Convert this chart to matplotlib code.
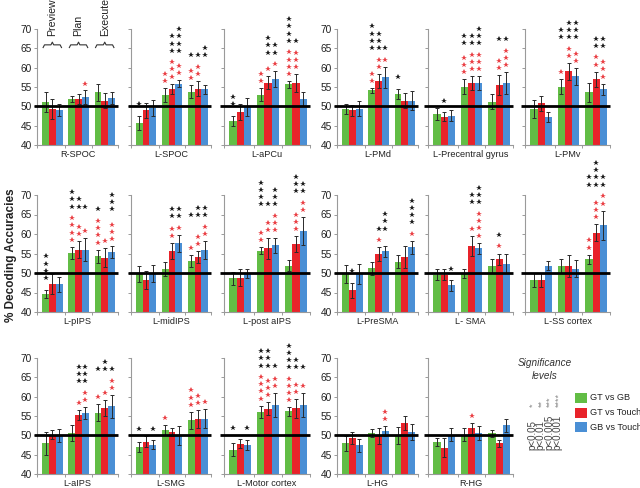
import numpy as np
import matplotlib.pyplot as plt
from matplotlib.patches import Rectangle

plt.rcParams['font.family'] = ['Liberation Sans', 'DejaVu Sans']

regions = ["R-SPOC", "L-SPOC", "L-aPCu", "L-PMd", "L-Precentral gyrus", "L-PMv",
           "L-pIPS", "L-midIPS", "L-post aIPS", "L-PreSMA", "L- SMA", "L-SS cortex",
           "L-aIPS", "L-SMG", "L-Motor cortex", "L-HG", "R-HG"]
phases = ["Preview", "Plan", "Execute"]
comparisons = ["GT vs GB", "GT vs Touch", "GB vs Touch"]
p_levels = ["p<0.05", "p<0.01", "p<0.005", "p<0.001"]
y_ticks = [40, 45, 50, 55, 60, 65, 70]
chance = 50

# mean accuracy per region: [phase][comparison]
means = [
    [[51.1, 49.3, 49.0], [51.8, 52.0, 52.3], [53.6, 51.5, 52.1]],
    [[45.7, 49.0, 49.6], [53.0, 54.6, 55.9], [53.8, 54.6, 54.4]],
    [[46.3, 48.5, 49.8], [53.0, 56.1, 57.1], [55.7, 56.0, 51.9]],
    [[49.3, 49.0, 49.4], [54.1, 56.5, 57.5], [53.2, 51.5, 51.5]],
    [[48.0, 47.3, 47.6], [55.1, 56.0, 56.0], [51.2, 55.5, 56.0]],
    [[49.3, 50.8, 47.3], [55.1, 59.1, 57.8], [53.6, 57.0, 54.4]],
    [[44.7, 47.1, 47.1], [55.2, 56.0, 56.0], [54.3, 53.9, 55.4]],
    [[49.8, 48.1, 49.9], [51.0, 55.7, 57.6], [53.1, 54.1, 55.8]],
    [[48.6, 48.8, 49.9], [55.7, 56.4, 57.1], [51.9, 57.4, 60.8]],
    [[49.7, 45.6, 49.7], [51.2, 54.8, 55.6], [52.9, 54.1, 56.6]],
    [[49.6, 49.6, 46.8], [49.9, 56.9, 56.3], [51.9, 53.5, 52.4]],
    [[48.3, 48.2, 51.9], [51.8, 51.8, 51.1], [53.5, 60.3, 62.2]],
    [[47.9, 50.2, 49.9], [50.7, 55.3, 55.8], [55.9, 57.1, 57.5]],
    [[47.0, 48.3, 47.6], [51.4, 50.8, 49.9], [53.9, 54.3, 54.3]],
    [[46.3, 47.8, 47.5], [56.1, 56.9, 57.8], [56.2, 57.0, 57.8]],
    [[47.9, 49.3, 47.4], [50.6, 49.8, 51.1], [50.0, 53.2, 50.8]],
    [[48.3, 46.8, 50.2], [50.2, 51.8, 50.5], [50.5, 47.9, 52.6]],
]

errs = [
    [[2.6, 2.7, 1.5], [0.8, 1.3, 1.8], [2.2, 2.0, 1.6]],
    [[1.9, 1.9, 2.0], [1.8, 1.3, 0.8], [1.7, 1.9, 1.1]],
    [[1.3, 2.0, 2.3], [1.7, 1.7, 2.0], [0.9, 2.4, 1.7]],
    [[1.4, 1.4, 1.9], [0.7, 1.8, 2.8], [1.4, 2.0, 2.4]],
    [[1.5, 1.2, 1.4], [1.9, 1.8, 1.8], [1.9, 2.6, 2.8]],
    [[2.3, 2.0, 1.3], [2.0, 2.2, 2.2], [2.4, 2.0, 1.5]],
    [[1.0, 2.6, 1.9], [1.5, 2.2, 2.9], [1.7, 2.4, 1.5]],
    [[2.1, 2.3, 2.1], [1.7, 2.0, 2.1], [1.6, 1.5, 2.3]],
    [[1.7, 2.1, 1.2], [0.9, 2.7, 2.0], [1.5, 2.0, 3.5]],
    [[2.3, 1.9, 2.5], [1.6, 1.8, 1.4], [1.6, 2.9, 1.6]],
    [[1.5, 1.5, 1.3], [1.1, 2.6, 1.5], [1.8, 1.5, 2.5]],
    [[1.8, 1.9, 1.1], [1.7, 2.7, 2.2], [1.2, 2.2, 3.8]],
    [[3.0, 1.2, 1.7], [2.1, 1.3, 1.5], [2.3, 2.1, 3.0]],
    [[1.2, 1.4, 1.1], [1.2, 1.1, 2.4], [2.2, 2.3, 2.5]],
    [[1.7, 1.2, 1.3], [1.6, 1.7, 3.1], [1.1, 2.4, 3.1]],
    [[1.9, 1.5, 1.6], [1.1, 2.1, 1.4], [2.2, 1.8, 2.1]],
    [[1.0, 2.4, 1.7], [1.7, 1.5, 1.8], [0.9, 0.8, 1.7]],
]

# number of red stars (above chance) per bar
red_stars = [
    [[0, 0, 0], [0, 0, 1], [0, 0, 0]],
    [[0, 0, 0], [2, 3, 2], [2, 2, 0]],
    [[0, 0, 0], [2, 1, 1], [4, 3, 0]],
    [[0, 0, 0], [2, 2, 1], [0, 0, 0]],
    [[0, 0, 0], [3, 3, 3], [0, 2, 3]],
    [[0, 0, 0], [1, 2, 2], [0, 2, 3]],
    [[0, 0, 0], [4, 2, 1], [4, 1, 3]],
    [[0, 0, 0], [0, 2, 1], [1, 2, 2]],
    [[0, 0, 0], [2, 2, 3], [0, 3, 2]],
    [[0, 0, 0], [0, 1, 0], [0, 0, 1]],
    [[0, 0, 0], [0, 1, 4], [0, 1, 0]],
    [[0, 0, 0], [0, 0, 0], [2, 3, 2]],
    [[0, 0, 0], [0, 1, 2], [1, 1, 2]],
    [[0, 0, 0], [1, 0, 0], [3, 2, 1]],
    [[0, 0, 0], [4, 3, 2], [4, 2, 1]],
    [[0, 0, 0], [0, 0, 2], [0, 0, 0]],
    [[0, 0, 0], [0, 1, 0], [0, 0, 0]],
]

# number of black stars per bar
black_stars = [
    [[0, 0, 0], [0, 0, 0], [0, 0, 0]],
    [[1, 0, 0], [0, 3, 4], [1, 1, 2]],
    [[2, 0, 0], [0, 3, 2], [4, 1, 0]],
    [[0, 0, 0], [4, 3, 1], [1, 0, 0]],
    [[0, 1, 0], [2, 2, 3], [0, 1, 1]],
    [[0, 0, 0], [2, 3, 3], [0, 2, 2]],
    [[4, 0, 0], [3, 2, 1], [1, 0, 3]],
    [[0, 0, 0], [0, 2, 2], [1, 2, 2]],
    [[0, 0, 0], [4, 1, 3], [0, 3, 2]],
    [[0, 1, 0], [0, 1, 3], [0, 0, 4]],
    [[0, 0, 1], [0, 2, 3], [0, 1, 0]],
    [[0, 0, 0], [0, 0, 0], [2, 4, 2]],
    [[0, 0, 0], [0, 3, 3], [1, 2, 1]],
    [[1, 0, 1], [0, 0, 0], [0, 0, 0]],
    [[1, 0, 1], [3, 3, 1], [4, 2, 1]],
    [[0, 0, 0], [0, 0, 0], [0, 0, 0]],
    [[0, 0, 0], [0, 0, 0], [0, 0, 0]],
]

bar_colors = ["#62bd45", "#e8232a", "#4a8fd5"]
red_star = "#ea4045"
black_star = "#1c1c1c"
spine_gray = "#9a9a9a"

W, H = 640, 488
col_left = [37, 131, 224, 337, 428, 525]
col_width = [81, 80, 86, 81, 85, 85]
row_top = [29, 195, 358]
row_bot = [145, 312, 474]

fig = plt.figure(figsize=(W / 100, H / 100), dpi=100)

bw = 1.0
centers = np.array([0.0, 3.85, 7.7])
xlim = (-2.25, 9.65)
step = 1.85


def star_column(ax, x, start, n, color):
    ys = start + step * np.arange(n)
    ax.plot(np.full(n, x), ys, ls="none", marker="*", ms=3.9, mew=0,
            color=color, clip_on=False, zorder=6)
    return ys[-1]


for k, name in enumerate(regions):
    r, c = divmod(k, 6)
    ax = fig.add_axes([col_left[c] / W, 1 - row_bot[r] / H,
                       col_width[c] / W, (row_bot[r] - row_top[r]) / H])
    m = np.array(means[k])
    e = np.array(errs[k])
    for j in range(3):
        xs = centers + (j - 1) * bw
        ax.bar(xs, m[:, j] - 40, bottom=40, width=bw, color=bar_colors[j],
               linewidth=0, zorder=2)
        ax.errorbar(xs, m[:, j], yerr=e[:, j], fmt="none", ecolor="#2a2a2a",
                    elinewidth=0.7, capsize=1.4, capthick=0.7, zorder=3)

    # significance stars
    for g in range(3):
        tops = m[g] + e[g]
        stack = tops.copy()
        for j in range(3):
            n = red_stars[k][g][j]
            if n:
                stack[j] = star_column(ax, centers[g] + (j - 1) * bw,
                                       tops[j] + 1.8, n, red_star)
        with_black = [j for j in range(3) if black_stars[k][g][j]]
        if with_black:
            base = max(stack[j] for j in with_black) + 3.0
            for j in with_black:
                star_column(ax, centers[g] + (j - 1) * bw, base,
                            black_stars[k][g][j], black_star)

    ax.plot([xlim[0] - 0.5, xlim[1]], [chance, chance], color="black", lw=2,
            clip_on=False, zorder=5, solid_capstyle="butt")

    ax.set_xlim(*xlim)
    ax.set_ylim(40, 70)
    ax.set_yticks(y_ticks)
    ax.set_xticks([xlim[0], 1.925, 5.775, xlim[1]])
    ax.set_xticklabels([])
    for s in ["top", "right"]:
        ax.spines[s].set_visible(False)
    for s in ["left", "bottom"]:
        ax.spines[s].set_color(spine_gray)
        ax.spines[s].set_linewidth(0.8)
    ax.tick_params(axis="both", colors=spine_gray, length=2.5, width=0.7,
                   labelsize=7.3, labelcolor="#222222", pad=1)
    ax.tick_params(axis="x", length=2)
    if c not in (0, 3):
        ax.set_yticklabels([])
    ax.text(0.5, -0.085, name, transform=ax.transAxes, ha="center",
            va="center", fontsize=6.6, color="#222222")

    if k == 0:
        for g, ph in enumerate(phases):
            xl, xr, xc = centers[g] - 1.35, centers[g] + 1.35, centers[g]
            y0 = 65.9
            ax.plot([xl, xl + 0.2, xc - 0.2, xc, xc + 0.2, xr - 0.2, xr],
                    [y0 - 0.7, y0, y0, y0 + 0.7, y0, y0, y0 - 0.7],
                    color="#333333", lw=0.8, clip_on=False)
            ax.text(xc, 68.3, ph, rotation=90, ha="center", va="bottom",
                    fontsize=7.6, color="#222222", clip_on=False)

fig.text(0.017, 0.478, "% Decoding Accuracies", rotation=90, ha="center",
         va="center", fontsize=8.5, fontweight="bold", color="#222222")

fig.text(545 / W, 1 - 363 / H, "Significance", ha="center", va="center",
         fontsize=7.2, style="italic", color="#333333")
fig.text(545 / W, 1 - 376 / H, "levels", ha="center", va="center",
         fontsize=7.2, style="italic", color="#333333")

for i, p in enumerate(p_levels):
    x = (532 + 8.5 * i) / W
    fig.text(x, 1 - 450 / H, p, rotation=90, ha="center", va="bottom",
             fontsize=7, color="#444444")
    fig.text(x + 0.002, 1 - 407 / H, "*" * (i + 1), rotation=90, ha="center",
             va="bottom", fontsize=6.5, color="#8a8a8a")

for j, lab in enumerate(comparisons):
    yc = 398 + 14.5 * j
    fig.add_artist(Rectangle((575 / W, 1 - (yc + 5) / H), 12 / W, 10 / H,
                             transform=fig.transFigure, color=bar_colors[j],
                             linewidth=0))
    fig.text(590 / W, 1 - yc / H, lab, ha="left", va="center", fontsize=6.6,
             color="#222222")

fig.savefig("out.png", dpi=100)
